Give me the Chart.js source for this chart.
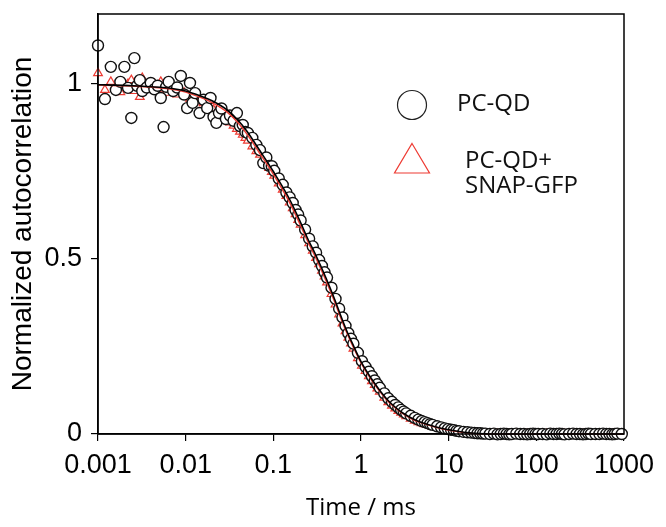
<!DOCTYPE html>
<html>
<head>
<meta charset="utf-8">
<script src="https://cdn.jsdelivr.net/npm/chart.js@4/dist/chart.umd.min.js"></script>
<style>
  html, body { margin: 0; padding: 0; background: #fff; }
  #wrap { width: 666px; height: 527px; }
</style>
</head>
<body>
<div id="wrap"><canvas id="fcsChart" width="666" height="527"></canvas></div>
<script>
// lag times (ms) of the correlator channels
const lagTimes = [
  0.001, 0.0012, 0.0014, 0.0016, 0.0018, 0.002, 0.0022, 0.0024, 0.0026, 0.0028, 0.003, 0.0032,
  0.0036, 0.004, 0.0044, 0.0048, 0.0052, 0.0056, 0.006, 0.0064,
  0.0072, 0.008, 0.0088, 0.0096, 0.0104, 0.0112, 0.012, 0.0128,
  0.0144, 0.016, 0.0176, 0.0192, 0.0208, 0.0224, 0.024, 0.0256,
  0.0288, 0.032, 0.0352, 0.0384, 0.0416, 0.0448, 0.048, 0.0512,
  0.0576, 0.064, 0.0704, 0.0768, 0.0832, 0.0896, 0.096, 0.1024,
  0.1152, 0.128, 0.1408, 0.1536, 0.1664, 0.1792, 0.192, 0.2048,
  0.2304, 0.256, 0.2816, 0.3072, 0.3328, 0.3584, 0.384, 0.4096,
  0.4608, 0.512, 0.5632, 0.6144, 0.6656, 0.7168, 0.768, 0.8192,
  0.9216, 1.024, 1.126, 1.229, 1.331, 1.434, 1.536, 1.638,
  1.843, 2.048, 2.253, 2.458, 2.662, 2.867, 3.072, 3.277,
  3.686, 4.096, 4.506, 4.915, 5.325, 5.734, 6.144, 6.554,
  7.373, 8.192, 9.011, 9.830, 10.65, 11.47, 12.29, 13.11,
  14.75, 16.38, 18.02, 19.66, 21.30, 22.94, 24.58, 26.21,
  29.49, 32.77, 36.04, 39.32, 42.60, 45.88, 49.15, 52.43,
  58.98, 65.54, 72.09, 78.64, 85.20, 91.75, 98.30, 104.9,
  118.0, 131.1, 144.2, 157.3, 170.4, 183.5, 196.6, 209.7,
  235.9, 262.1, 288.4, 314.6, 340.8, 367.0, 393.2, 419.4,
  471.9, 524.3, 576.7, 629.1, 681.6, 734.0, 786.4, 838.9, 943.7
];

// PC-QD (black circles)
const pcQd = [
  1.11, 0.957, 1.049, 0.983, 1.006, 1.049, 0.989, 0.903, 1.074, 0.995, 1.011, 0.98,
  0.99, 1.003, 0.985, 0.995, 0.96, 0.877, 0.992, 1.006,
  0.98, 0.99, 1.023, 0.97, 0.931, 1.003, 0.946, 0.974,
  0.917, 0.955, 0.931, 0.96, 0.906, 0.889, 0.917, 0.93,
  0.9, 0.91, 0.895, 0.917, 0.88, 0.883, 0.863, 0.86,
  0.846, 0.826, 0.811, 0.774, 0.79, 0.766, 0.765, 0.752,
  0.73, 0.712, 0.69, 0.676, 0.66, 0.64, 0.627, 0.61,
  0.584, 0.558, 0.536, 0.518, 0.497, 0.48, 0.462, 0.447,
  0.418, 0.386, 0.358, 0.333, 0.309, 0.288, 0.272, 0.258,
  0.232, 0.208, 0.192, 0.178, 0.165, 0.153, 0.142, 0.132,
  0.116, 0.102, 0.092, 0.083, 0.076, 0.069, 0.064, 0.059,
  0.052, 0.046, 0.041, 0.037, 0.034, 0.031, 0.028, 0.026,
  0.022, 0.019, 0.016, 0.014, 0.012, 0.011, 0.009, 0.008,
  0.006, 0.005, 0.004, 0.003, 0.002, 0.002, 0.001, 0.001,
  0, 0.001, -0.001, 0, 0.001, 0, -0.001, 0,
  0.001, 0, 0, -0.001, 0, 0.001, 0, 0,
  0, -0.001, 0.001, 0, 0, 0.001, 0, -0.001,
  0, 0.001, 0, 0, -0.001, 0, 0.001, 0,
  0, 0, 0.001, 0, 0, -0.001, 0, 0.001, 0
];

// PC-QD + SNAP-GFP (red triangles)
const pcQdGfp = [
  1.031, 0.983, 1.006, 0.99, 0.977, 0.995, 1.0, 1.011, 0.98, 1.0, 0.963, 1.017,
  0.985, 0.99, 1.0, 0.98, 1.006, 0.985, 0.975, 1.003,
  0.99, 0.97, 0.98, 0.975, 0.965, 0.958, 0.96, 0.955,
  0.95, 0.945, 0.937, 0.932, 0.926, 0.92, 0.914, 0.908,
  0.9, 0.89, 0.881, 0.872, 0.864, 0.855, 0.846, 0.838,
  0.822, 0.808, 0.798, 0.784, 0.771, 0.76, 0.749, 0.738,
  0.716, 0.698, 0.68, 0.662, 0.645, 0.628, 0.612, 0.598,
  0.568, 0.545, 0.524, 0.503, 0.485, 0.467, 0.45, 0.433,
  0.4, 0.37, 0.342, 0.316, 0.294, 0.275, 0.259, 0.244,
  0.217, 0.195, 0.18, 0.165, 0.151, 0.14, 0.13, 0.121,
  0.104, 0.091, 0.081, 0.073, 0.066, 0.061, 0.056, 0.051,
  0.044, 0.038, 0.034, 0.031, 0.028, 0.026, 0.024, 0.021,
  0.018, 0.015, 0.013, 0.011, 0.01, 0.009, 0.007, 0.006,
  0.005, 0.004, 0.003, 0.002, 0.001, 0.001, 0, 0,
  0, 0, 0, 0, 0, 0, 0, 0,
  0, 0, 0, 0, 0, 0, 0, 0,
  0, 0, 0, 0, 0, 0, 0, 0,
  0, 0, 0, 0, 0, 0, 0, 0,
  0, 0, 0, 0, 0, 0, 0, 0, 0
];

// fitted curves
const fitTimes = [0.001, 0.002, 0.004, 0.007, 0.01, 0.015, 0.02, 0.03, 0.04, 0.05, 0.07, 0.1, 0.15, 0.2, 0.25, 0.3,
  0.4, 0.5, 0.6, 0.7, 0.8, 1, 1.3, 1.6, 2, 2.5, 3, 4, 5, 7, 10, 15, 20, 30, 100, 1000];
const fitPcQd = [0.998, 0.996, 0.992, 0.987, 0.98, 0.965, 0.952, 0.925, 0.895, 0.865, 0.81, 0.75, 0.675, 0.61, 0.555, 0.515,
  0.445, 0.385, 0.332, 0.29, 0.258, 0.207, 0.16, 0.128, 0.098, 0.075, 0.06, 0.042, 0.032, 0.021, 0.012, 0.005, 0.002, 0, 0, 0];
const fitPcQdGfp = [0.997, 0.995, 0.991, 0.985, 0.977, 0.961, 0.947, 0.919, 0.888, 0.857, 0.802, 0.742, 0.666, 0.601, 0.547, 0.507,
  0.437, 0.378, 0.326, 0.285, 0.253, 0.203, 0.156, 0.125, 0.095, 0.073, 0.058, 0.04, 0.031, 0.02, 0.011, 0.004, 0.001, 0, 0, 0];

const xTicks = [0.001, 0.01, 0.1, 1, 10, 100, 1000];
const yTicks = [0, 0.5, 1];
const legendLabels = ['PC-QD', ['PC-QD+', 'SNAP-GFP']];

const RED = '#ee3b33';
const tickFont = { family: '"Liberation Sans", Arial, sans-serif', size: 27 };

function toPoints(xs, ys) {
  return xs.map((x, i) => ({ x: x, y: ys[i] }));
}

// frame box + the hand drawn legend in the upper right
const framePlugin = {
  id: 'frame',
  afterDraw(chart) {
    const { ctx, chartArea: a } = chart;
    ctx.save();
    ctx.strokeStyle = '#000';
    ctx.lineWidth = 1.5;
    ctx.strokeRect(a.left, a.top, a.right - a.left, a.bottom - a.top);

    // circle entry
    ctx.lineWidth = 1.2;
    ctx.strokeStyle = '#222';
    ctx.beginPath();
    ctx.arc(412, 105, 14.5, 0, Math.PI * 2);
    ctx.stroke();
    // triangle entry
    ctx.strokeStyle = RED;
    ctx.beginPath();
    ctx.moveTo(412, 143.5);
    ctx.lineTo(429.5, 173);
    ctx.lineTo(394.5, 173);
    ctx.closePath();
    ctx.stroke();

    ctx.fillStyle = '#111';
    ctx.font = '24px "Open Sans", sans-serif';
    ctx.textBaseline = 'middle';
    ctx.fillText(legendLabels[0], 457, 104);
    ctx.fillText(legendLabels[1][0], 465, 161);
    ctx.fillText(legendLabels[1][1], 465, 186);
    ctx.restore();
  }
};

new Chart(document.getElementById('fcsChart'), {
  type: 'scatter',
  data: {
    datasets: [
      {
        label: 'fit PC-QD',
        data: toPoints(fitTimes, fitPcQd),
        showLine: true,
        borderColor: '#000',
        borderWidth: 1.6,
        pointRadius: 0,
        cubicInterpolationMode: 'monotone',
        order: 0
      },
      {
        label: 'fit PC-QD+SNAP-GFP',
        data: toPoints(fitTimes, fitPcQdGfp),
        showLine: true,
        borderColor: RED,
        borderWidth: 1.4,
        pointRadius: 0,
        cubicInterpolationMode: 'monotone',
        order: 0
      },
      {
        label: 'PC-QD',
        data: toPoints(lagTimes, pcQd),
        pointStyle: 'circle',
        pointRadius: 5.5,
        borderColor: '#111',
        borderWidth: 1.4,
        backgroundColor: '#fff',
        order: 1
      },
      {
        label: 'PC-QD+SNAP-GFP',
        data: toPoints(lagTimes, pcQdGfp),
        pointStyle: 'triangle',
        pointRadius: 5,
        borderColor: RED,
        borderWidth: 1.2,
        backgroundColor: '#fff',
        order: 2
      }
    ]
  },
  options: {
    responsive: false,
    animation: false,
    events: [],
    clip: false,
    layout: { padding: { top: 14, right: 42, left: 0, bottom: 0 } },
    plugins: { legend: { display: false }, tooltip: { enabled: false } },
    scales: {
      x: {
        type: 'logarithmic',
        min: 0.001,
        max: 1000,
        afterBuildTicks: (s) => { s.ticks = xTicks.map(v => ({ value: v })); },
        afterFit: (s) => { s.height = 93; s.paddingLeft = 0; s.paddingRight = 0; },
        ticks: {
          color: '#000',
          font: tickFont,
          padding: 8,
          maxRotation: 0,
          autoSkip: false,
          callback: (v) => String(v)
        },
        grid: { drawOnChartArea: false, drawTicks: true, tickLength: 7, color: '#000', lineWidth: 1.2 },
        border: { display: true, color: '#000', width: 1.5 },
        title: {
          display: true,
          text: 'Time / ms',
          color: '#000',
          font: { family: '"Open Sans", sans-serif', size: 24 },
          padding: { top: 0, bottom: 4 }
        }
      },
      y: {
        type: 'linear',
        min: 0,
        max: 1.2,
        afterBuildTicks: (s) => { s.ticks = yTicks.map(v => ({ value: v })); },
        afterFit: (s) => { s.width = 98; s.paddingTop = 0; s.paddingBottom = 0; },
        ticks: {
          color: '#000',
          font: tickFont,
          padding: 9,
          callback: (v) => String(v)
        },
        grid: { drawOnChartArea: false, drawTicks: true, tickLength: 7, color: '#000', lineWidth: 1.2 },
        border: { display: true, color: '#000', width: 1.5 },
        title: {
          display: true,
          text: 'Normalized autocorrelation',
          color: '#000',
          font: { family: '"Liberation Sans", Arial, sans-serif', size: 28 },
          padding: { top: 6, bottom: 0 }
        }
      }
    }
  },
  plugins: [framePlugin]
});
</script>
</body>
</html>
